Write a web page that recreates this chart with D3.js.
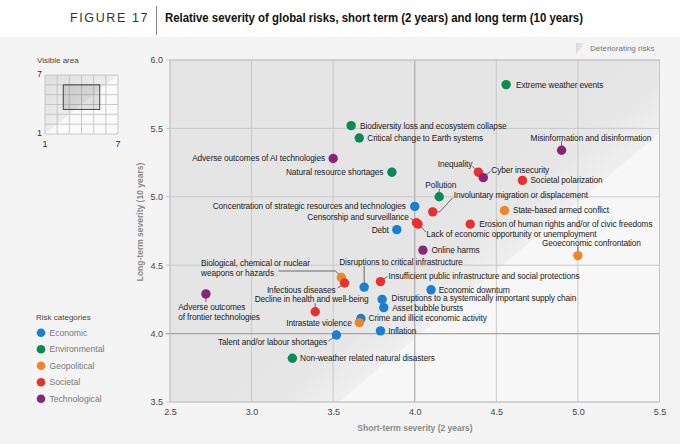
<!DOCTYPE html>
<html><head><meta charset="utf-8">
<script src="https://cdn.jsdelivr.net/npm/d3@7"></script>
<style>
html,body{margin:0;padding:0;background:#fff;}
svg{display:block;font-family:"Liberation Sans",Arial,sans-serif;}
</style></head>
<body>
<script>
// ---------- DATA ----------
const categories = ["Economic","Environmental","Geopolitical","Societal","Technological"];
const categoryColors = ["#1a7fd0","#0a8a55","#f0862a","#e8312f","#8b2479"];
const risks = [
 "Extreme weather events","Biodiversity loss and ecosystem collapse","Critical change to Earth systems",
 "Adverse outcomes of AI technologies","Natural resource shortages","Misinformation and disinformation",
 "Inequality","Cyber insecurity","Societal polarization","Pollution","Involuntary migration or displacement",
 "State-based armed conflict","Erosion of human rights and/or of civic freedoms","Censorship and surveillance",
 "Lack of economic opportunity or unemployment","Concentration of strategic resources and technologies","Debt",
 "Online harms","Geoeconomic confrontation","Biological, chemical or nuclear weapons or hazards",
 "Infectious diseases","Disruptions to critical infrastructure","Insufficient public infrastructure and social protections",
 "Economic downturn","Disruptions to a systemically important supply chain","Asset bubble bursts",
 "Crime and illicit economic activity","Intrastate violence","Inflation","Talent and/or labour shortages",
 "Non-weather related natural disasters","Decline in health and well-being","Adverse outcomes of frontier technologies"
];
const riskCategory = [
 "Environmental","Environmental","Environmental","Technological","Environmental","Technological",
 "Societal","Technological","Societal","Environmental","Societal",
 "Geopolitical","Societal","Societal","Societal","Economic","Economic",
 "Technological","Geopolitical","Geopolitical","Societal","Economic","Societal",
 "Economic","Economic","Economic","Economic","Geopolitical","Economic","Economic",
 "Environmental","Societal","Technological"
];
const shortTerm = [4.56,3.61,3.66,3.50,3.86,4.90,4.39,4.42,4.66,4.15,4.11,4.55,4.34,4.01,4.02,4.00,3.89,
 4.05,5.00,3.55,3.57,3.69,3.79,4.10,3.80,3.81,3.67,3.66,3.79,3.52,3.25,3.39,2.72];
const longTerm = [5.82,5.52,5.43,5.28,5.18,5.34,5.18,5.14,5.12,5.00,4.89,4.90,4.80,4.81,4.80,4.93,4.76,
 4.61,4.57,4.41,4.37,4.34,4.38,4.32,4.25,4.19,4.11,4.08,4.02,3.99,3.82,4.16,4.29];
const xTicks = [2.5,3.0,3.5,4.0,4.5,5.0,5.5];
const yTicks = [3.5,4.0,4.5,5.0,5.5,6.0];
const insetTicks = [1,7];
const visibleArea = {x:[2.5,5.5], y:[3.5,6.0]};

// ---------- LABEL LAYOUT (offsets relative to each dot) ----------
const labelLayout = [
 {a:"start",dx:10,dy:0},
 {a:"start",dx:9,dy:0},
 {a:"start",dx:8,dy:0},
 {a:"end",dx:-8,dy:0},
 {a:"end",dx:-8.5,dy:0},
 {a:"start",dx:-31,dy:-12.5,L:[[0,-4],[0,-9]]},
 {a:"end",dx:-6,dy:-8.5,L:[[-2,-2],[-6,-6]]},
 {a:"start",dx:8,dy:-8,L:[[2,-2],[7,-6]]},
 {a:"start",dx:8,dy:0},
 {a:"middle",dx:1.5,dy:-12,L:[[0,-4],[0,-8]]},
 {a:"start",dx:21,dy:-17,L:[[4,0],[7,0],[20,-14]]},
 {a:"start",dx:8.5,dy:0},
 {a:"start",dx:9,dy:0},
 {a:"end",dx:-7.5,dy:-5.6,L:[[-2,-2],[-6,-4.5]]},
 {a:"start",dx:8.5,dy:9.7,L:[[2,2],[8,8]]},
 {a:"end",dx:-9,dy:0},
 {a:"end",dx:-8,dy:0},
 {a:"start",dx:8.5,dy:0},
 {a:"start",dx:-36,dy:-12.6,L:[[0,-4],[0,-9]]},
 {a:"start",dx:-140.3,dy:-15,lines:["Biological, chemical or nuclear","weapons or hazards"],L:[[-2,-3],[-6,-6.5],[-63,-6.5]]},
 {a:"end",dx:-9,dy:6.7,L:[[-2,2],[-7,5]]},
 {a:"start",dx:-25,dy:-25,L:[[0,-4],[0,-21]]},
 {a:"start",dx:8,dy:-5.6,L:[[2,-2],[7,-5]]},
 {a:"start",dx:7.6,dy:0},
 {a:"start",dx:9.4,dy:-1},
 {a:"start",dx:8.4,dy:0.6},
 {a:"start",dx:7.6,dy:-0.6},
 {a:"end",dx:-7.6,dy:0},
 {a:"start",dx:7.7,dy:0},
 {a:"end",dx:-9.3,dy:6.7,L:[[-2,2],[-8,6]]},
 {a:"start",dx:7.7,dy:0},
 {a:"middle",dx:-3.6,dy:-12.3,L:[[0,-4],[0,-8.5]]},
 {a:"start",dx:-27.7,dy:12.7,lines:["Adverse outcomes","of frontier technologies"],L:[[0,4],[0,8]]}
];

// ---------- CHART ----------
const W=680,H=444;
const svg=d3.select("body").append("svg").attr("width",W).attr("height",H);
const defs=svg.append("defs");

svg.append("rect").attr("x",0).attr("y",37).attr("width",W).attr("height",H-37).attr("fill","#f4f4f4");

// header
svg.append("text").attr("x",70).attr("y",22).attr("font-size",12.5).attr("letter-spacing",1.6)
 .attr("fill","#333").attr("font-weight",300).text("FIGURE 17");
svg.append("line").attr("x1",156.5).attr("x2",156.5).attr("y1",6).attr("y2",35).attr("stroke","#666").attr("stroke-width",0.8);
svg.append("text").attr("x",165).attr("y",22).attr("font-size",12.5).attr("font-weight","bold")
 .attr("fill","#111").attr("textLength",418).attr("lengthAdjust","spacingAndGlyphs")
 .text("Relative severity of global risks, short term (2 years) and long term (10 years)");

const x=d3.scaleLinear().domain([2.5,5.5]).range([170,659.5]);
const y=d3.scaleLinear().domain([3.5,6.0]).range([402,60]);

// shading gradient perpendicular to diagonal
const p0=[x(3.5),y(3.5)], p1=[x(5.5),y(5.5)];
const dir=[p1[0]-p0[0],p1[1]-p0[1]]; const len=Math.hypot(dir[0],dir[1]);
const n=[dir[1]/len,-dir[0]/len];
const nn = n[0]<0?n:[-n[0],-n[1]];
const g0=[p0[0]-nn[0]*14,p0[1]-nn[1]*14], g1=[p0[0]+nn[0]*70,p0[1]+nn[1]*70];
const lg=defs.append("linearGradient").attr("id","shade").attr("gradientUnits","userSpaceOnUse")
 .attr("x1",g0[0]).attr("y1",g0[1]).attr("x2",g1[0]).attr("y2",g1[1]);
[[0,"#f7f7f7"],[0.12,"#f7f7f7"],[0.125,"#efefef"],[0.6,"#e7e7e7"],[1,"#e5e5e5"]].forEach(s=>lg.append("stop").attr("offset",s[0]).attr("stop-color",s[1]));
svg.append("rect").attr("x",170).attr("y",60).attr("width",489.5).attr("height",342).attr("fill","url(#shade)");

// grid
const grid=svg.append("g");
xTicks.forEach(t=>grid.append("line").attr("x1",x(t)).attr("x2",x(t)).attr("y1",60).attr("y2",402)
 .attr("stroke",t===4?"#adadad":"#c9c9c9").attr("stroke-width",t===4?1.2:1));
yTicks.forEach(t=>grid.append("line").attr("x1",166).attr("x2",659.5).attr("y1",y(t)).attr("y2",y(t))
 .attr("stroke",t===4?"#a4a4a4":"#c9c9c9").attr("stroke-width",t===4?1.3:1));
svg.append("rect").attr("x",170).attr("y",60).attr("width",489.5).attr("height",342).attr("fill","none").attr("stroke","#c6c6c6");

// axes labels
const xAxis=d3.axisBottom(x).tickValues(xTicks).tickFormat(d3.format(".1f")).tickSize(0).tickPadding(0);
const gx=svg.append("g").attr("transform","translate(0,408)").call(xAxis);
gx.select(".domain").remove();
gx.selectAll("text").attr("font-size",9).attr("fill","#444").attr("font-family","Liberation Sans, Arial").attr("dy","0.75em");
const yAxis=d3.axisLeft(y).tickValues(yTicks).tickFormat(d3.format(".1f")).tickSize(0).tickPadding(0);
const gy=svg.append("g").attr("transform","translate(163,0)").call(yAxis);
gy.select(".domain").remove();
gy.selectAll("text").attr("font-size",9).attr("fill","#444").attr("font-family","Liberation Sans, Arial");

svg.append("text").attr("x",415).attr("y",431).attr("text-anchor","middle").attr("font-size",8.5)
 .attr("font-weight","bold").attr("fill","#8a8a8a").text("Short-term severity (2 years)");
svg.append("text").attr("transform","translate(143,222) rotate(-90)").attr("text-anchor","middle").attr("font-size",8.5)
 .attr("font-weight","bold").attr("fill","#8a8a8a").text("Long-term severity (10 years)");

// deteriorating risks key
const lg2=defs.append("linearGradient").attr("id","tri").attr("x1",0).attr("y1",0).attr("x2",1).attr("y2",0.3);
lg2.append("stop").attr("offset",0).attr("stop-color","#d4d4d4");
lg2.append("stop").attr("offset",1).attr("stop-color","#f2f2f2");
svg.append("path").attr("d","M576,43 L586,43 L576,54 Z").attr("fill","url(#tri)");
svg.append("text").attr("x",590).attr("y",51).attr("font-size",8).attr("fill","#777").text("Deteriorating risks");

// points & labels
const color=d3.scaleOrdinal().domain(categories).range(categoryColors);
const data=risks.map((r,i)=>({name:r,cat:riskCategory[i],sx:shortTerm[i],ly:longTerm[i],lay:labelLayout[i]}));
const lab=svg.append("g");
data.forEach(d=>{
 const px=x(d.sx), py=y(d.ly), L=d.lay;
 if(L.L){
  lab.append("polyline").attr("points",L.L.map(p=>[px+p[0],py+p[1]].join(",")).join(" "))
   .attr("fill","none").attr("stroke","#333").attr("stroke-width",0.7);
 }
});
svg.append("g").selectAll("circle").data(data).join("circle")
 .attr("cx",d=>x(d.sx)).attr("cy",d=>y(d.ly)).attr("r",4.7).attr("fill",d=>color(d.cat));
data.forEach(d=>{
 const px=x(d.sx), py=y(d.ly), L=d.lay;
 const lines=L.lines||[d.name];
 const t=lab.append("text").attr("font-size",8.3).attr("fill","#222").attr("text-anchor",L.a).attr("letter-spacing",-0.1);
 lines.forEach((s,k)=>t.append("tspan").attr("x",px+L.dx).attr("y",py+L.dy+3+k*10.2).text(s));
});

// inset "Visible area"
svg.append("text").attr("x",37).attr("y",63).attr("font-size",8).attr("fill","#444").text("Visible area");
const ix=d3.scaleLinear().domain([1,7]).range([45,118]);
const iy=d3.scaleLinear().domain([1,7]).range([134,75]);
svg.append("rect").attr("x",45).attr("y",75).attr("width",73).attr("height",59).attr("fill","#fafafa");
const lg3=defs.append("linearGradient").attr("id","ish").attr("x1",1).attr("y1",1).attr("x2",0).attr("y2",0);
lg3.append("stop").attr("offset",0.45).attr("stop-color","#eeeeee");
lg3.append("stop").attr("offset",1).attr("stop-color","#dedede");
svg.append("path").attr("d",`M${ix(1)},${iy(1)} L${ix(7)},${iy(7)} L${ix(1)},${iy(7)} Z`).attr("fill","url(#ish)");
d3.range(1,8).forEach(v=>{
 svg.append("line").attr("x1",ix(v)).attr("x2",ix(v)).attr("y1",iy(1)).attr("y2",iy(7)).attr("stroke","#bdbdbd").attr("stroke-width",0.8);
 svg.append("line").attr("y1",iy(v)).attr("y2",iy(v)).attr("x1",ix(1)).attr("x2",ix(7)).attr("stroke","#bdbdbd").attr("stroke-width",0.8);
});
svg.append("rect").attr("x",ix(visibleArea.x[0])).attr("y",iy(visibleArea.y[1]))
 .attr("width",ix(visibleArea.x[1])-ix(visibleArea.x[0])).attr("height",iy(visibleArea.y[0])-iy(visibleArea.y[1]))
 .attr("fill","rgba(0,0,0,0.1)").attr("stroke","#333").attr("stroke-width",0.9);
svg.append("text").attr("x",37).attr("y",iy(7)+2).attr("font-size",9).attr("fill","#333").text(insetTicks[1]);
svg.append("text").attr("x",37).attr("y",iy(1)+2).attr("font-size",9).attr("fill","#333").text(insetTicks[0]);
insetTicks.forEach(t=>svg.append("text").attr("x",ix(t)).attr("y",147).attr("text-anchor","middle").attr("font-size",9).attr("fill","#333").text(t));

// legend
svg.append("text").attr("x",36).attr("y",320).attr("font-size",8).attr("fill","#444").text("Risk categories");
categories.forEach((c,i)=>{
 const yy=332.7+i*16.5;
 svg.append("circle").attr("cx",41).attr("cy",yy).attr("r",4.3).attr("fill",color(c));
 svg.append("text").attr("x",49.5).attr("y",yy+3).attr("font-size",8.6).attr("fill","#777").text(c);
});
</script>
</body></html>
